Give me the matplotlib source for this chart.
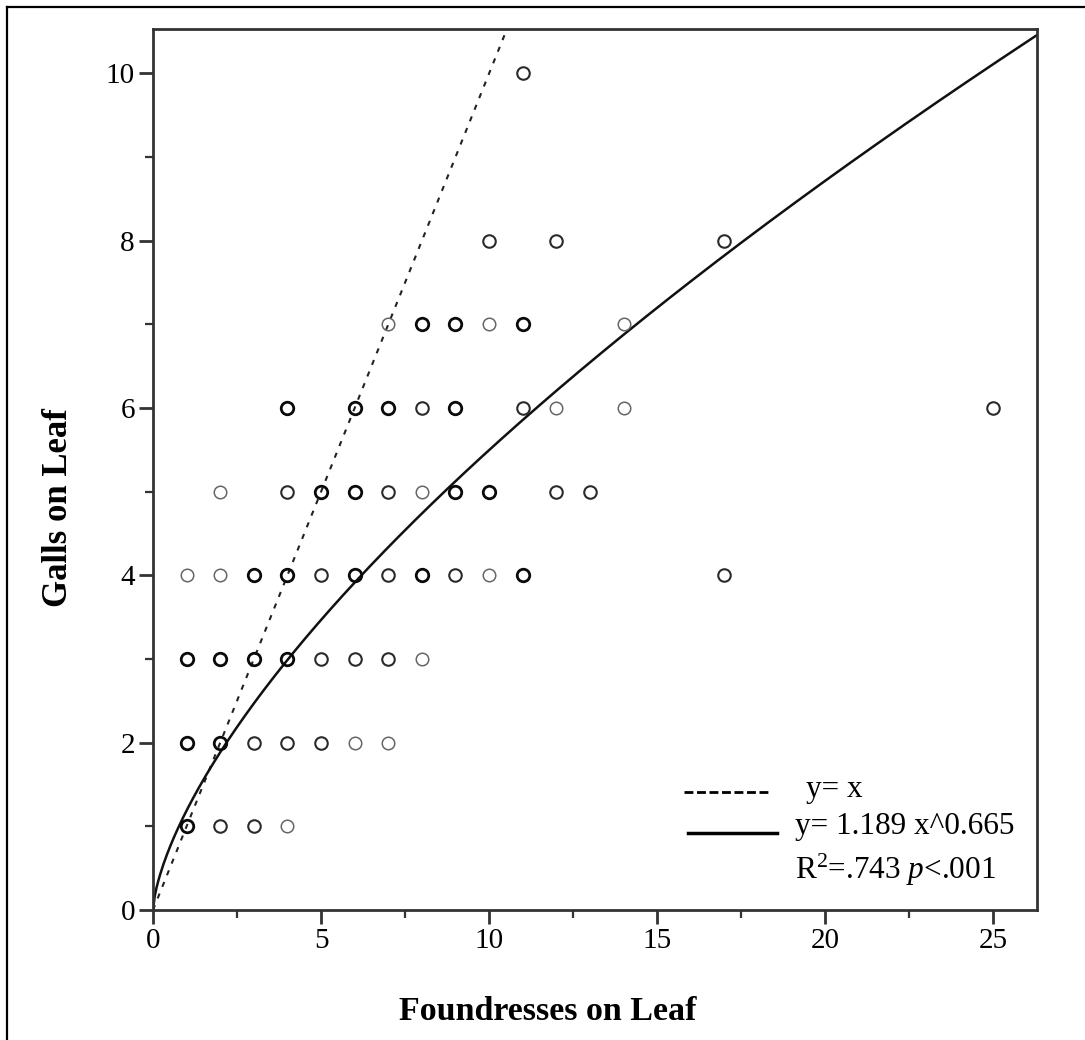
import numpy as np
import matplotlib.pyplot as plt
from matplotlib.lines import Line2D
from matplotlib.ticker import MultipleLocator

plt.rcParams['font.family'] = ['Liberation Serif', 'DejaVu Serif']
plt.rcParams['mathtext.fontset'] = 'custom'
plt.rcParams['mathtext.rm'] = 'Liberation Serif'
plt.rcParams['mathtext.it'] = 'Liberation Serif:italic'

# observations: (foundresses, galls, number of leaves at that point)
foundresses = [11,
               10, 12, 17,
               7, 8, 9, 10, 11, 14,
               4, 6, 7, 8, 9, 11, 12, 14, 25,
               2, 4, 5, 6, 7, 8, 9, 10, 12, 13,
               1, 2, 3, 4, 5, 6, 7, 8, 9, 10, 11, 17,
               1, 2, 3, 4, 5, 6, 7, 8,
               1, 2, 3, 4, 5, 6, 7,
               1, 2, 3, 4]
galls = [10,
         8, 8, 8,
         7, 7, 7, 7, 7, 7,
         6, 6, 6, 6, 6, 6, 6, 6, 6,
         5, 5, 5, 5, 5, 5, 5, 5, 5, 5,
         4, 4, 4, 4, 4, 4, 4, 4, 4, 4, 4, 4,
         3, 3, 3, 3, 3, 3, 3, 3,
         2, 2, 2, 2, 2, 2, 2,
         1, 1, 1, 1]
counts = [2,
          2, 2, 2,
          1, 3, 3, 1, 3, 1,
          3, 3, 3, 2, 3, 2, 1, 1, 2,
          1, 2, 3, 3, 2, 1, 3, 3, 2, 2,
          1, 1, 3, 3, 2, 3, 2, 3, 2, 1, 3, 2,
          3, 3, 3, 3, 2, 2, 2, 1,
          3, 3, 2, 2, 2, 1, 1,
          3, 2, 2, 1]

coef_a = 1.189
coef_b = 0.665

fig = plt.figure(figsize=(10.85, 10.4), dpi=100)
ax = fig.add_axes([0.141, 0.125, 0.815, 0.847])

# frame around the whole figure (top and left edges)
fig.add_artist(Line2D([0.0065, 0.0065], [0.0, 0.9935], transform=fig.transFigure,
                      color='black', lw=1.6))
fig.add_artist(Line2D([0.0065, 1.0], [0.9935, 0.9935], transform=fig.transFigure,
                      color='black', lw=1.6))

x = np.array(foundresses)
y = np.array(galls)
n = np.array(counts)
widths = {1: 1.1, 2: 1.5, 3: 2.0}
greys = {1: '#666666', 2: '#2a2a2a', 3: '#0a0a0a'}
for k in (1, 2, 3):
    m = n == k
    ax.plot(x[m], y[m], 'o', ms=9, mfc='none', mec=greys[k], mew=widths[k], zorder=3)

xx = np.linspace(0, 26.31, 500)
ax.plot(xx, xx, ls=(0, (2.5, 3.5)), color='#222222', lw=1.5)
ax.plot(xx, coef_a * xx ** coef_b, color='#111111', lw=1.8)

ax.set_xlim(0, 26.31)
ax.set_ylim(0, 10.53)
ax.xaxis.set_major_locator(MultipleLocator(5))
ax.xaxis.set_minor_locator(MultipleLocator(2.5))
ax.yaxis.set_major_locator(MultipleLocator(2))
ax.yaxis.set_minor_locator(MultipleLocator(1))
ax.tick_params(which='major', direction='out', length=10, width=2, color='#333333',
               labelsize=21, pad=3)
ax.tick_params(which='minor', direction='out', length=6, width=1.6, color='#333333')
for s in ax.spines.values():
    s.set_color('#333333')
    s.set_linewidth(2)

fig.text(0.505, 0.027, 'Foundresses on Leaf', ha='center', va='center',
         fontsize=24.5, fontweight='bold')
fig.text(0.054, 0.512, 'Galls on Leaf', ha='center', va='center', rotation=90,
         fontsize=25, fontweight='bold')

# key for the two lines
ax.plot([0.600, 0.698], [0.134, 0.134], transform=ax.transAxes, ls=(0, (3.2, 1.3)),
        color='black', lw=2)
ax.plot([0.605, 0.706], [0.087, 0.087], transform=ax.transAxes,
        color='black', lw=2.5)
ax.text(0.738, 0.137, 'y= x', transform=ax.transAxes, fontsize=22.5, va='center')
ax.text(0.726, 0.095, 'y= 1.189 x^0.665', transform=ax.transAxes, fontsize=22.5,
        va='center')
ax.text(0.726, 0.045, r'R$^2$=.743 $p$<.001', transform=ax.transAxes, fontsize=22.5,
        va='center')

fig.savefig('out.png', dpi=100, facecolor='white')
